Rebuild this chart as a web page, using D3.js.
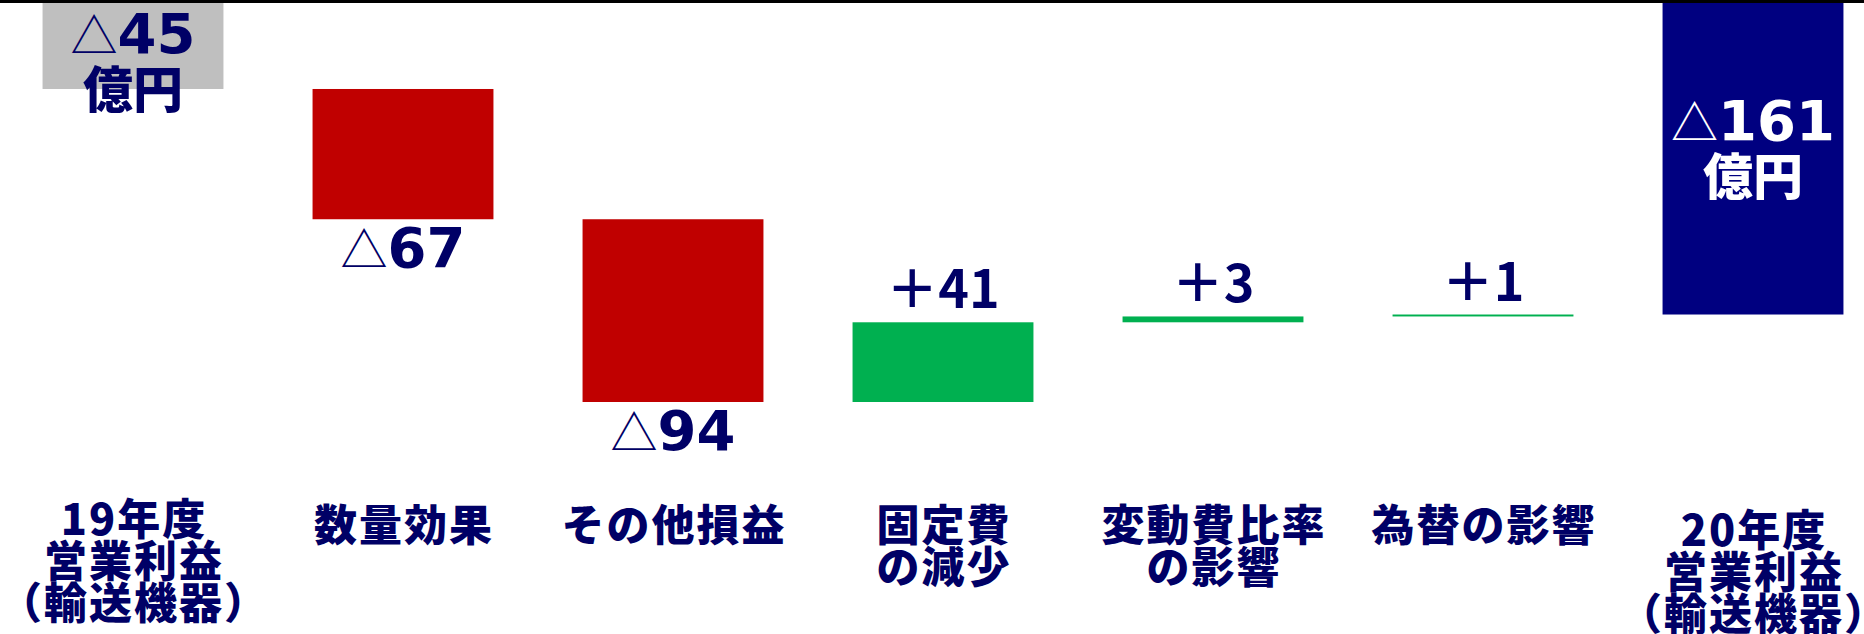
<!DOCTYPE html>
<html lang="ja">
<head>
<meta charset="utf-8">
<script src="https://cdn.jsdelivr.net/npm/d3@7"></script>
<style>
  html, body { margin: 0; padding: 0; background: #fff; }
  svg { display: block; }
  .cat-label { font-family: "Noto Sans CJK JP", sans-serif; font-weight: 900; fill: #000066; letter-spacing: 2px; }
  .num { font-family: "DejaVu Sans", sans-serif; font-weight: 700; }
  .tri { font-family: "Noto Sans CJK JP", sans-serif; font-weight: 400; }
  .plus { font-family: "Noto Sans CJK JP", sans-serif; font-weight: 700; }
  .unit { font-family: "Noto Sans CJK JP", sans-serif; font-weight: 900; }
</style>
</head>
<body>
<svg id="chart"></svg>
<script>
  /* ── Data ──────────────────────────────────────────────────────────────────── */
  const categories = ['19年度営業利益', '数量効果', 'その他損益', '固定費の減少',
                      '変動費比率の影響', '為替の影響', '20年度営業利益'];
  const categoryLines = [
    ['19年度', '営業利益', '（輸送機器）'],
    ['数量効果'],
    ['その他損益'],
    ['固定費', 'の減少'],
    ['変動費比率', 'の影響'],
    ['為替の影響'],
    ['20年度', '営業利益', '（輸送機器）'],
  ];
  const startValue = -45;
  const endValue   = -161;
  const deltas     = [-67, -94, 41, 3, 1];
  const unitText   = '億円';

  /* ── Layout ────────────────────────────────────────────────────────────────── */
  const W = 1864, H = 634;
  const NAVY_TEXT = '#000066';
  const COLORS = { start: '#BFBFBF', end: '#000080', neg: '#C00000', pos: '#00B050' };
  const CAT_BASELINE = [535, 541, 541, 541, 541, 541, 546];
  const CAT_LINE_H = 42;

  const svg = d3.select('#chart').attr('width', W).attr('height', H);

  const x = d3.scaleBand().domain(categories)
    .range([-2, 1888]).paddingInner(0.33).paddingOuter(0.165);
  const y = d3.scaleLinear().domain([0, -206]).range([1.5, 402]);

  /* build waterfall rows */
  const rows = [];
  rows.push({ cat: categories[0], from: 0, to: startValue, value: startValue, kind: 'start' });
  let run = startValue;
  deltas.forEach((d, i) => {
    rows.push({ cat: categories[i + 1], from: run, to: run + d, value: d, kind: d < 0 ? 'neg' : 'pos' });
    run += d;
  });
  rows.push({ cat: categories[6], from: 0, to: endValue, value: endValue, kind: 'end' });

  /* bars */
  svg.append('g').selectAll('rect')
    .data(rows).enter().append('rect')
    .attr('x', d => x(d.cat))
    .attr('width', x.bandwidth())
    .attr('y', d => y(Math.max(d.from, d.to)))
    .attr('height', d => Math.abs(y(d.from) - y(d.to)))
    .attr('fill', d => COLORS[d.kind]);

  /* zero line */
  svg.append('line')
    .attr('x1', 0).attr('x2', W)
    .attr('y1', y(0)).attr('y2', y(0))
    .attr('stroke', '#000').attr('stroke-width', 3);

  /* value text helper */
  function valueText(sel, v, fill) {
    if (v < 0) {
      sel.append('tspan').attr('class', 'tri').style('font-size', '47px').text('△');
      sel.append('tspan').attr('class', 'num').text(Math.abs(v));
    } else {
      sel.append('tspan').attr('class', 'plus').text('＋');
      sel.append('tspan').attr('class', 'plus').text(v);
    }
    sel.attr('fill', fill);
  }

  /* delta labels */
  const lblG = svg.append('g');
  rows.filter(d => d.kind === 'neg' || d.kind === 'pos').forEach(d => {
    const cx = x(d.cat) + x.bandwidth() / 2;
    const t = lblG.append('text').attr('text-anchor', 'middle').attr('x', cx);
    if (d.value < 0) {
      t.attr('y', y(Math.min(d.from, d.to)) + 48).style('font-size', '56px');
    } else {
      t.attr('y', y(Math.max(d.from, d.to)) - 14).style('font-size', '52px');
    }
    valueText(t, d.value, NAVY_TEXT);
  });

  /* total labels (over start and end bars) */
  const totalOffsets = { start: 51, end: 138 };
  rows.filter(d => d.kind === 'start' || d.kind === 'end').forEach(d => {
    const cx = x(d.cat) + x.bandwidth() / 2;
    const fill = d.kind === 'end' ? '#fff' : NAVY_TEXT;
    const base = y(0) + totalOffsets[d.kind];
    const t1 = lblG.append('text').attr('text-anchor', 'middle')
      .attr('x', cx).attr('y', base).style('font-size', '56px');
    valueText(t1, d.value, fill);
    lblG.append('text').attr('class', 'unit').attr('text-anchor', 'middle')
      .attr('x', cx).attr('y', base + 55).attr('fill', fill)
      .style('font-size', '50px').text(unitText);
  });

  /* category labels, one text per line */
  const catG = svg.append('g');
  categories.forEach((c, i) => {
    const cx = x(c) + x.bandwidth() / 2;
    categoryLines[i].forEach((line, j) => {
      catG.append('text').attr('class', 'cat-label')
        .attr('text-anchor', 'middle')
        .attr('x', cx + 1)
        .attr('y', CAT_BASELINE[i] + j * CAT_LINE_H)
        .style('font-size', '43px')
        .text(line);
    });
  });
</script>
</body>
</html>
